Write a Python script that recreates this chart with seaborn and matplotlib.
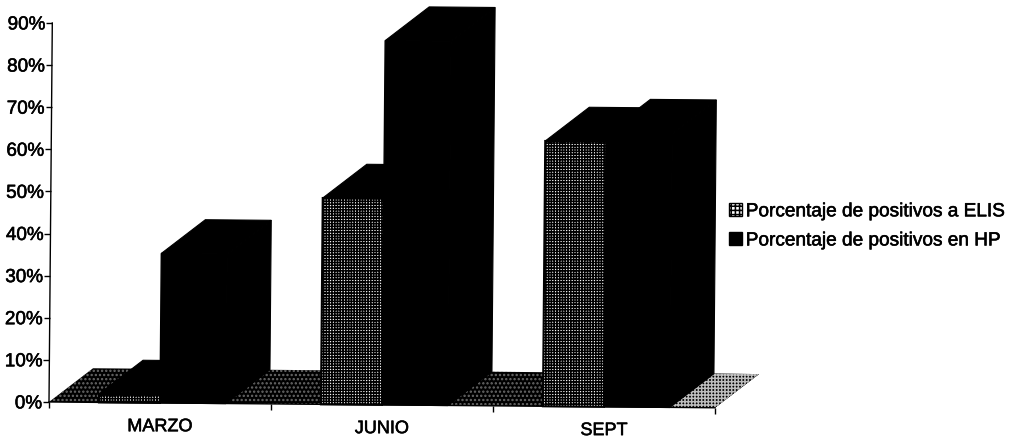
import matplotlib
matplotlib.use("Agg")
import matplotlib.pyplot as plt
import matplotlib.patheffects as pe
import pandas as pd
import seaborn as sns
from matplotlib.patches import Patch, Polygon
from matplotlib.transforms import Affine2D

months = ["MARZO", "JUNIO", "SEPT"]
elisa_values = [2, 49, 63]
hp_values = [35.5, 86.5, 65]
series_names = ["Porcentaje de positivos a ELIS", "Porcentaje de positivos en HP"]
y_ticks = [0, 10, 20, 30, 40, 50, 60, 70, 80, 90]
boundaries = [-0.5, 0.5, 1.5, 2.5]

# fake 3D depth, in data units
DEPTH_X = 0.197
DEPTH_Y = 8.1


def depth_faces(ax, bar, tilt):
    x0, x1 = bar.get_x(), bar.get_x() + bar.get_width()
    h = bar.get_height()
    top = [(x0, h), (x1, h), (x1 + DEPTH_X, h + DEPTH_Y), (x0 + DEPTH_X, h + DEPTH_Y)]
    side = [(x1, 0), (x1 + DEPTH_X, DEPTH_Y), (x1 + DEPTH_X, h + DEPTH_Y), (x1, h)]
    for pts in (top, side):
        ax.add_patch(Polygon(pts, closed=True, facecolor="black", edgecolor="black", lw=0.8,
                             zorder=2, clip_on=False, transform=ax.transData + tilt))


def main():
    sns.set_theme(style="white")
    plt.rcParams["font.family"] = ["Liberation Sans", "DejaVu Sans"]
    plt.rcParams["hatch.linewidth"] = 1.1

    df = pd.DataFrame({
        "mes": months * 2,
        "valor": elisa_values + hp_values,
        "serie": [series_names[0]] * 3 + [series_names[1]] * 3,
    })

    fig = plt.figure(figsize=(10.12, 4.44), dpi=100, facecolor="white")
    ax = fig.add_axes([49 / 1012, 42 / 444, 666 / 1012, 379 / 444])
    ax.set_facecolor("none")
    sns.barplot(data=df, x="mes", y="valor", hue="serie", palette=["white", "black"],
                width=0.55, gap=0, saturation=1, legend=False, ax=ax, zorder=3)
    ax.set_xlim(-0.5, 2.5)
    ax.set_ylim(0, 90)
    ax.set_xlabel("")
    ax.set_ylabel("")
    ax.set_yticks(y_ticks)
    ax.set_yticklabels([f"{v}%" for v in y_ticks])
    ax.set_xticks(boundaries, minor=True)

    tilt = Affine2D().rotate_deg_around(52, 42, -0.5)

    for bar in ax.containers[0]:
        bar.set_hatch("++++++")
        bar.set_edgecolor("black")
        bar.set_linewidth(1.5)
    # the HP blocks come out a bit wider than the ELISA ones in the original
    for bar in ax.containers[1]:
        bar.set_edgecolor("black")
        bar.set_width(bar.get_width() * 1.08)
    for cont in ax.containers:
        for bar in cont:
            bar.set_transform(ax.transData + tilt)
            bar.set_clip_on(False)
            depth_faces(ax, bar, tilt)

    # floor of the 3D box, lighter past the last block
    x_end = ax.containers[1][-1].get_x() + ax.containers[1][-1].get_width()
    floor = [(-0.5, 0), (2.5, 0), (2.5 + DEPTH_X, DEPTH_Y), (-0.5 + DEPTH_X, DEPTH_Y)]
    tip = [(x_end, 0), (2.5, 0), (2.5 + DEPTH_X, DEPTH_Y), (x_end + DEPTH_X, DEPTH_Y)]
    ax.add_patch(Polygon(floor, closed=True, facecolor="black", edgecolor="#6a6a6a", hatch="....",
                         lw=0, zorder=1, clip_on=False, transform=ax.transData + tilt))
    ax.add_patch(Polygon(tip, closed=True, facecolor="black", edgecolor="#bdbdbd", hatch="+++++",
                         lw=0, zorder=1.5, clip_on=False, transform=ax.transData + tilt))

    sns.despine(ax=ax, top=True, right=True, bottom=False, left=False)
    for side in ("left", "bottom"):
        ax.spines[side].set_color("black")
        ax.spines[side].set_linewidth(1.0)
        ax.spines[side].set_transform(ax.spines[side].get_transform() + tilt)
    ax.tick_params(axis="y", left=True, length=4, width=1, color="black", pad=1, labelsize=13.6,
                   labelcolor="black")
    ax.tick_params(axis="x", which="major", bottom=False, pad=5, labelsize=13, labelcolor="black")
    ax.tick_params(axis="x", which="minor", bottom=True, length=4, width=1, color="black")
    stroke = [pe.withStroke(linewidth=0.4, foreground="black")]
    ticks = ax.yaxis.get_major_ticks() + ax.xaxis.get_major_ticks() + ax.xaxis.get_minor_ticks()
    for tick in ticks:
        tick.tick1line.set_transform(tick.tick1line.get_transform() + tilt)
        tick.label1.set_transform(tick.label1.get_transform() + tilt)
        tick.label1.set_path_effects(stroke)

    handles = [Patch(facecolor="white", edgecolor="black", hatch="++++", lw=1),
               Patch(facecolor="black", edgecolor="black")]
    leg = fig.legend(handles, series_names, loc="upper left", bbox_to_anchor=(729 / 1012, 1 - 203 / 444),
                     frameon=False, fontsize=13.7, handlelength=0.68, handleheight=0.7, handletextpad=0.2,
                     labelspacing=0.62, labelcolor="black", borderpad=0, borderaxespad=0)
    for text in leg.get_texts():
        text.set_path_effects(stroke)

    fig.savefig("out.png", dpi=100)
    plt.close(fig)


if __name__ == "__main__":
    main()
